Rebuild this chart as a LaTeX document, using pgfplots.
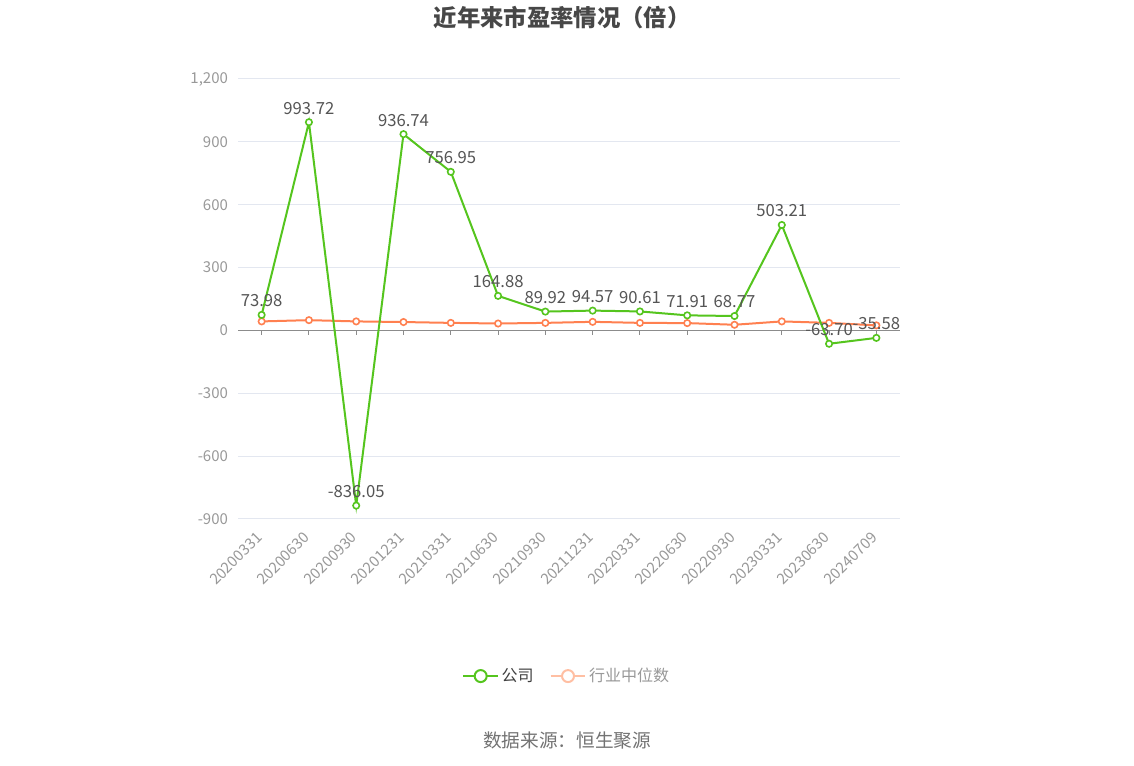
\documentclass[border=0pt]{standalone}
\usepackage{pgfplots}
\pgfplotsset{compat=1.18}
\usepackage{fontspec}
\setmainfont{Noto Sans CJK SC}

\definecolor{comp}{HTML}{55C51E}
\definecolor{ind}{HTML}{FF8050}
\definecolor{indlight}{HTML}{FFBFA3}
\definecolor{gridc}{HTML}{E3E7F0}
\definecolor{ticktext}{HTML}{999999}
\definecolor{labeltext}{HTML}{555555}

\begin{document}
\begin{tikzpicture}
% page frame: 1134 x 766 px, 1px = 0.75pt
\fill[white] (0pt,0pt) rectangle (850.5pt,574.5pt);

\node[font=\bfseries\fontsize{17.5}{20}\selectfont, text=black!72] at (421.5pt,561pt) {近年来市盈率情况（倍）};
\node[font=\fontsize{14}{16}\selectfont, text=black!55] at (425.25pt,19pt) {数据来源：恒生聚源};

\begin{axis}[
  at={(178.5pt,185.25pt)}, anchor=south west,
  scale only axis,
  width=496.5pt, height=330pt,
  xmin=-0.5, xmax=13.5,
  ymin=-900, ymax=1200,
  xtick={0,...,13},
  xticklabels={20200331,20200630,20200930,20201231,20210331,20210630,20210930,20211231,20220331,20220630,20220930,20230331,20230630,20240709},
  ytick={-900,-600,-300,0,300,600,900,1200},
  axis line style={draw=none},
  major tick length=0pt,
  ymajorgrids,
  grid style={gridc, line width=0.75pt},
  tick label style={text=ticktext, font=\fontsize{11.25}{13}\selectfont},
  xticklabel style={rotate=45, anchor=north east, inner sep=1pt, xshift=-8.5pt, yshift=-2pt},
  yticklabel style={xshift=-4pt},
  /pgf/number format/assume math mode=true,
  /pgf/number format/1000 sep={,},
  clip=false,
  legend columns=2,
  legend style={at={(0.497,-0.357)}, anchor=center, draw=none, fill=none,
    font=\fontsize{12}{14}\selectfont,
    /tikz/every even column/.append style={column sep=10pt}},
  legend image code/.code={
    \draw[#1, mark=none] (0pt,0pt) -- (26pt,0pt);
    \draw[#1, mark=none, fill=white, line width=1.5pt] (13pt,0pt) circle (4.5pt);
  },
]
% zero line with ticks
\draw[black!45, line width=0.75pt] (axis cs:-0.5,0) -- (axis cs:13.5,0);
\pgfplotsinvokeforeach{0,...,13}{
  \draw[black!45, line width=0.75pt] (axis cs:#1,0) -- ++(0pt,-3.75pt);
}

\addplot[color=ind, line width=1.5pt, mark=*, mark size=2.4pt,
  mark options={fill=white, draw=ind, line width=1.2pt}, forget plot]
  coordinates {
  (0,43) (1,49) (2,43) (3,40) (4,36) (5,33) (6,36)
  (7,41) (8,36) (9,35) (10,27) (11,43) (12,36) (13,24)
  };

\addplot[color=comp, line width=1.5pt, mark=*, mark size=2.4pt,
  mark options={fill=white, draw=comp, line width=1.2pt},
  nodes near coords,
  every node near coord/.append style={text=labeltext, anchor=south,
    font=\fontsize{12.5}{14}\selectfont, yshift=2pt,
    /pgf/number format/fixed, /pgf/number format/fixed zerofill,
    /pgf/number format/precision=2, /pgf/number format/1000 sep={}},
  forget plot]
  coordinates {
  (0,73.98) (1,993.72) (2,-836.05) (3,936.74) (4,756.95) (5,164.88) (6,89.92)
  (7,94.57) (8,90.61) (9,71.91) (10,68.77) (11,503.21) (12,-63.70) (13,-35.58)
  };

\addlegendimage{color=comp, line width=1.5pt}
\addlegendentry{\textcolor{black!75}{公司}}
\addlegendimage{color=indlight, line width=1.5pt}
\addlegendentry{\textcolor{ticktext}{行业中位数}}
\end{axis}
\end{tikzpicture}
\end{document}
